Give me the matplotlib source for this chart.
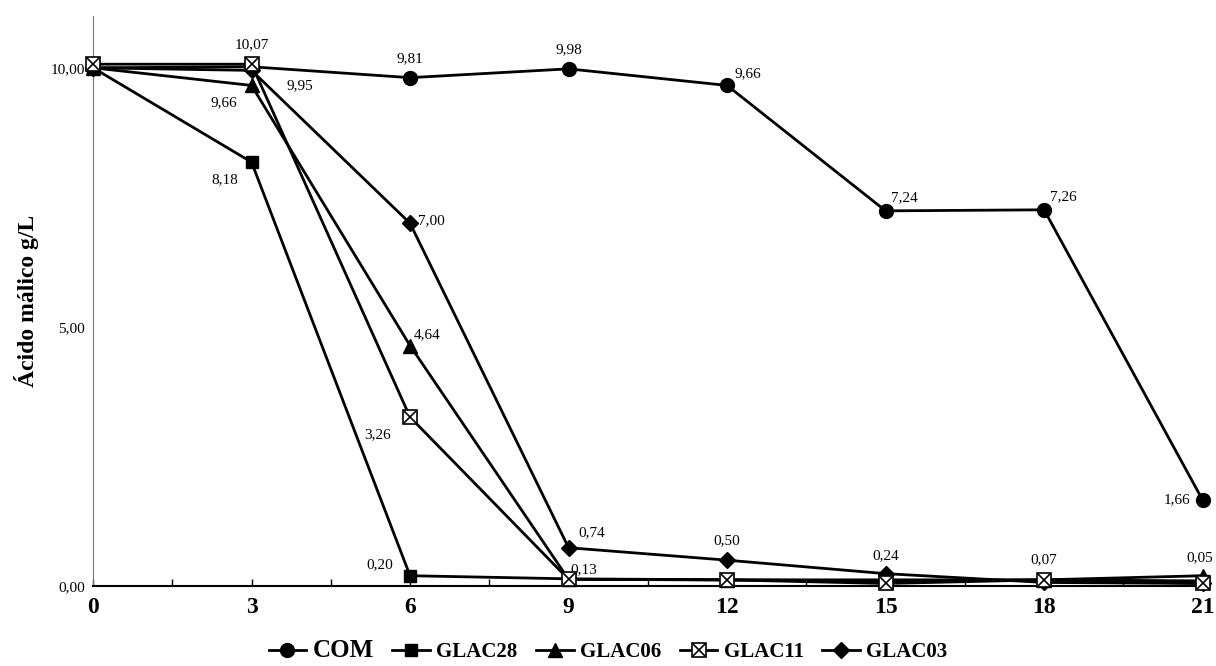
import matplotlib
matplotlib.use("Agg")
import matplotlib.pyplot as plt
from matplotlib.legend_handler import HandlerTuple
from matplotlib.ticker import FuncFormatter, MultipleLocator

plt.rcParams['font.family'] = ['Liberation Serif', 'DejaVu Serif']

days = [0, 3, 6, 9, 12, 15, 18, 21]
com = [10.00, 10.02, 9.81, 9.98, 9.66, 7.24, 7.26, 1.66]
glac28 = [10.00, 8.18, 0.20, 0.14, 0.12, 0.12, 0.12, 0.10]
glac06 = [10.00, 9.66, 4.64, 0.13, 0.12, 0.10, 0.12, 0.20]
glac11 = [10.07, 10.07, 3.26, 0.13, 0.12, 0.05, 0.12, 0.05]
glac03 = [10.00, 9.95, 7.00, 0.74, 0.50, 0.24, 0.07, 0.05]

# (series, index, text, offset in points, ha, va)
labels = [
    (glac11, 1, "10,07", (0, 9), "center", "bottom"),
    (glac03, 1, "9,95", (25, -6), "left", "top"),
    (glac06, 1, "9,66", (-10, -8), "right", "top"),
    (glac28, 1, "8,18", (-10, -8), "right", "top"),
    (com, 2, "9,81", (0, 9), "center", "bottom"),
    (com, 3, "9,98", (0, 9), "center", "bottom"),
    (com, 4, "9,66", (5, 4), "left", "bottom"),
    (com, 5, "7,24", (4, 5), "left", "bottom"),
    (com, 6, "7,26", (4, 5), "left", "bottom"),
    (com, 7, "1,66", (-9, 0), "right", "center"),
    (glac03, 2, "7,00", (6, 2), "left", "center"),
    (glac06, 2, "4,64", (3, 3), "left", "bottom"),
    (glac11, 2, "3,26", (-14, -8), "right", "top"),
    (glac28, 2, "0,20", (-12, 3), "right", "bottom"),
    (glac03, 3, "0,74", (7, 6), "left", "bottom"),
    (glac11, 3, "0,13", (1, 2), "left", "bottom"),
    (glac03, 4, "0,50", (0, 9), "center", "bottom"),
    (glac03, 5, "0,24", (0, 8), "center", "bottom"),
    (glac03, 6, "0,07", (0, 12), "center", "bottom"),
    (glac03, 7, "0,05", (-2, 14), "center", "bottom"),
]

fig = plt.figure(figsize=(12.16, 6.66), dpi=100)
ax = fig.add_axes([0.0765, 0.12, 0.9125, 0.856])

lw = 2
l1, = ax.plot(days, com, color='black', lw=lw, marker='o', ms=10, zorder=3, clip_on=False)
l2, = ax.plot(days, glac28, color='black', lw=lw, marker='s', ms=9, zorder=3, clip_on=False)
l3, = ax.plot(days, glac06, color='black', lw=lw, marker='^', ms=10, zorder=3, clip_on=False)
l4, = ax.plot(days, glac11, color='black', lw=lw, marker='s', ms=10,
              mfc='white', mec='black', mew=1.2, zorder=4, clip_on=False)
l4x, = ax.plot(days, glac11, color='none', marker='x', ms=9,
               mec='black', mew=1.2, ls='none', zorder=5, clip_on=False)
l5, = ax.plot(days, glac03, color='black', lw=lw, marker='D', ms=8, zorder=3, clip_on=False)

for ser, i, txt, off, ha, va in labels:
    ax.annotate(txt, (days[i], ser[i]), xytext=off, textcoords='offset points',
                ha=ha, va=va, fontsize=11)

ax.set_xlim(0, 21)
ax.set_ylim(0, 11)
ax.set_xticks(days)
ax.xaxis.set_minor_locator(MultipleLocator(1.5))
ax.set_yticks([0, 5, 10])
ax.yaxis.set_major_formatter(FuncFormatter(lambda v, p: f"{v:.2f}".replace('.', ',')))
ax.tick_params(axis='x', which='both', direction='in', length=5, width=1,
               labelsize=17, pad=8)
ax.tick_params(axis='y', length=0, labelsize=11, pad=6)
for lab in ax.get_xticklabels():
    lab.set_fontweight('bold')

ax.spines['top'].set_visible(False)
ax.spines['right'].set_visible(False)
ax.spines['left'].set_color('#777777')
ax.spines['left'].set_linewidth(0.8)
ax.spines['bottom'].set_linewidth(1.5)

ax.set_ylabel("Ácido málico g/L", fontsize=17, fontweight='bold', labelpad=8)

leg = fig.legend([l1, l2, l3, (l4, l4x), l5], ["COM", "GLAC28", "GLAC06", "GLAC11", "GLAC03"],
                 handler_map={tuple: HandlerTuple(ndivide=1, pad=0)},
                 loc='lower center', bbox_to_anchor=(0.5, -0.022), ncol=5, frameon=False,
                 prop={'size': 15, 'weight': 'bold'}, handlelength=1.8, handletextpad=0.3,
                 columnspacing=0.9)
leg.get_texts()[0].set_fontsize(18)

fig.savefig("out.png", dpi=100)
